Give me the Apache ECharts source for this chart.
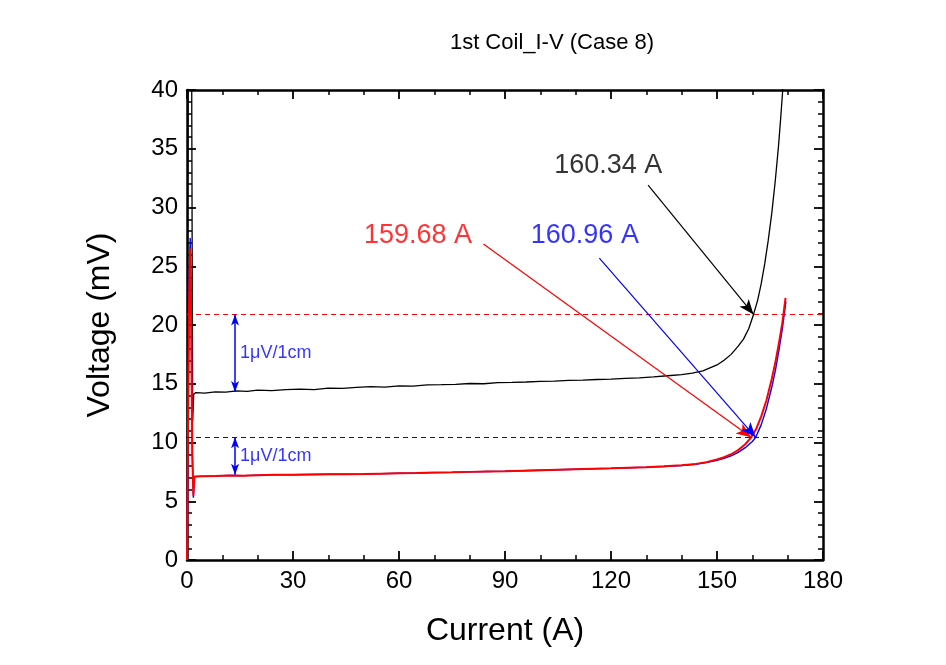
<!DOCTYPE html>
<html>
<head>
<meta charset="utf-8">
<script src="https://cdn.jsdelivr.net/npm/echarts@6/dist/echarts.min.js"></script>
<style>html,body{margin:0;padding:0;background:#fff}#c{width:946px;height:665px}</style>
</head>
<body>
<div id="c"></div>
<script>
var titleText = '1st Coil_I-V (Case 8)';
var xName = 'Current (A)';
var yName = 'Voltage (mV)';
var xTicks = [0, 30, 60, 90, 120, 150, 180];
var yTicks = [0, 5, 10, 15, 20, 25, 30, 35, 40];

var blackIV = [[0.0,0.3],[0.2,30],[0.4,48],[0.9,48],[1.3,44],[1.6,11.8],[1.9,14.1],[2.5,14.25],[5,14.2],[8,14.3],[11,14.28],[14,14.4],[17,14.35],[20,14.45],[24,14.42],[28,14.5],[32,14.55],[36,14.5],[40,14.62],[44,14.6],[48,14.7],[52,14.75],[56,14.72],[60,14.82],[64,14.8],[68,14.9],[72,14.92],[76,14.95],[80,15.02],[84,15.0],[88,15.1],[92,15.12],[96,15.15],[100,15.2],[104,15.22],[108,15.28],[112,15.3],[116,15.36],[120,15.4],[124,15.45],[128,15.5],[132,15.58],[136,15.68],[140,15.78],[143,15.9],[146,16.1],[148,16.35],[150,16.6],[152,17.0],[154,17.5],[156,18.2],[157.5,18.8],[159,19.7],[160.34,20.9],[161.5,22.1],[162.5,23.5],[163.5,25.2],[164.5,27.2],[165.5,29.5],[166.5,32.3],[167.4,35.2],[168,37.5],[168.6,40],[169,41.5]];

var redIV = [[0,0],[0.3,12],[0.6,22],[0.9,26.5],[1.2,20],[1.5,9],[1.8,5.5],[2.1,7.1],[4,7.12],[8,7.15],[12,7.2],[16,7.18],[20,7.22],[25,7.25],[30,7.26],[35,7.28],[40,7.3],[45,7.3],[50,7.32],[55,7.35],[60,7.38],[65,7.4],[70,7.44],[75,7.46],[80,7.5],[85,7.53],[90,7.56],[95,7.6],[100,7.64],[105,7.68],[110,7.72],[115,7.76],[120,7.8],[125,7.85],[130,7.9],[135,7.97],[140,8.06],[144,8.18],[147,8.33],[150,8.55],[152,8.75],[154,9.0],[156,9.35],[158,9.85],[159.68,10.44],[161,11.1],[162.5,12.2],[164,13.6],[165.5,15.4],[166.5,16.8],[167.5,18.4],[168.5,20.2],[169.4,22.3]];

var blueIV = [[0,0],[0.3,13],[0.6,23],[0.9,27.4],[1.2,21],[1.5,9],[1.8,5.3],[2.1,7.1],[4,7.12],[8,7.15],[12,7.2],[16,7.18],[20,7.22],[25,7.25],[30,7.26],[35,7.28],[40,7.3],[45,7.3],[50,7.32],[55,7.35],[60,7.38],[65,7.4],[70,7.44],[75,7.46],[80,7.5],[85,7.53],[90,7.56],[95,7.6],[100,7.64],[105,7.68],[110,7.72],[115,7.76],[120,7.8],[125,7.85],[130,7.9],[135,7.96],[140,8.04],[144,8.15],[147,8.29],[150,8.48],[152,8.65],[154,8.87],[156,9.16],[158,9.56],[160,10.08],[160.96,10.44],[162.5,11.5],[164,12.9],[165.5,14.7],[166.5,16.1],[167.5,17.8],[168.5,19.7],[169.5,22.0]];

var upperCriterion = 20.9;
var lowerCriterion = 10.44;
var scaleBarX = 13.6;
var scaleBarBlack = 14.3;
var scaleBarRed = 7.25;
var scaleText = '1\u03bcV/1cm';

var annotText = ['160.34 A', '159.68 A', '160.96 A'];
var annotAt = [[119.2, 33.6], [65.4, 27.6], [112.6, 27.6]];
var arrowFrom = [[130.5, 31.9], [83.9, 26.9], [116.7, 25.7]];
var arrowTo = [[160.34, 20.9], [159.68, 10.44], [160.96, 10.44]];
var annotColor = ['#000000', '#ff0000', '#0000ff'];

var FONT = 'Liberation Sans, Arial, sans-serif';
var chart = echarts.init(document.getElementById('c'));

function frameAxis(pos, isX, showLabel) {
  return {
    type: 'value', position: pos,
    min: isX ? xTicks[0] : yTicks[0],
    max: isX ? xTicks[xTicks.length-1] : yTicks[yTicks.length-1],
    interval: isX ? xTicks[1]-xTicks[0] : yTicks[1]-yTicks[0],
    axisLine: {show: true, onZero: false, lineStyle: {color: '#000', width: 2.5}},
    axisTick: {show: true, inside: true, length: 9, lineStyle: {color: '#000', width: 1.8}},
    minorTick: {show: true, splitNumber: isX ? 3 : 5, length: 5, lineStyle: {color: '#000', width: 1.5}},
    splitLine: {show: false},
    axisLabel: {show: showLabel, color: '#000', fontSize: 24, fontFamily: FONT, margin: 9}
  };
}

var xb = frameAxis('bottom', true, true);
xb.name = xName; xb.nameLocation = 'middle'; xb.nameGap = 55;
xb.nameTextStyle = {fontSize: 32, color: '#000', fontFamily: FONT};
var xt = frameAxis('top', true, false);
var yl = frameAxis('left', false, true);
yl.name = yName; yl.nameLocation = 'middle'; yl.nameGap = 71;
yl.nameTextStyle = {fontSize: 32, color: '#000', fontFamily: FONT};
var yr = frameAxis('right', false, false);

function dashedSeries(name, level, color) {
  return {type: 'line', name: name, data: [], z: 2,
    markLine: {silent: true, symbol: ['none', 'none'], label: {show: false}, animation: false,
      lineStyle: {color: color, type: [5, 4], width: 1},
      data: [[{coord: [xTicks[0], level]}, {coord: [xTicks[xTicks.length-1], level]}]]}};
}

var series = [
  dashedSeries('upper', upperCriterion, '#ff0000'),
  dashedSeries('lower', lowerCriterion, '#0000ff'),
  {type: 'line', name: 'black', data: blackIV, showSymbol: false, symbol: 'none', clip: true,
   lineStyle: {color: '#000', width: 1.3}, z: 3},
  {type: 'line', name: 'blue', data: blueIV, showSymbol: false, symbol: 'none', clip: true,
   lineStyle: {color: '#0000ff', width: 1.4}, z: 3},
  {type: 'line', name: 'red', data: redIV, showSymbol: false, symbol: 'none', clip: true,
   lineStyle: {color: '#ff0000', width: 2}, z: 4}
];

for (var i = 0; i < annotText.length; i++) {
  series.push({type: 'line', name: 'arrow' + i, data: [], z: 5,
    markLine: {silent: true, symbol: ['none', 'arrow'], symbolSize: [9, 15], label: {show: false}, animation: false,
      lineStyle: {color: annotColor[i], width: 1.2, type: 'solid'},
      itemStyle: {color: annotColor[i]},
      data: [[{coord: arrowFrom[i]}, {coord: arrowTo[i]}]]}});
  series.push({type: 'scatter', name: 'annot' + i, symbolSize: 0, z: 6,
    data: [{value: annotAt[i], name: annotText[i]}],
    label: {show: true, position: 'inside', formatter: '{b}', fontSize: 27, fontFamily: FONT,
      color: annotColor[i], textBorderWidth: 0}});
}

series.push({type: 'line', name: 'scalebars', data: [], z: 5,
  markLine: {silent: true, symbol: ['arrow', 'arrow'], symbolSize: [6, 11], label: {show: false}, animation: false,
    lineStyle: {color: '#0000ff', width: 1.5, type: 'solid'},
    itemStyle: {color: '#0000ff'},
    data: [
      [{coord: [scaleBarX, upperCriterion]}, {coord: [scaleBarX, scaleBarBlack]}],
      [{coord: [scaleBarX, lowerCriterion]}, {coord: [scaleBarX, scaleBarRed]}]
    ]}});
series.push({type: 'scatter', name: 'scaleText', symbolSize: 0, z: 6,
  data: [[scaleBarX, (upperCriterion + scaleBarBlack) / 2], [scaleBarX, (lowerCriterion + scaleBarRed) / 2]],
  label: {show: true, position: 'right', distance: 5, formatter: scaleText, color: '#0000ff',
    fontSize: 18, fontFamily: FONT, textBorderWidth: 0}});

chart.setOption({
  animation: false,
  backgroundColor: '#fff',
  title: {text: titleText, left: 547, top: 27, textAlign: 'center',
    textStyle: {fontSize: 22, fontWeight: 'normal', color: '#000', fontFamily: FONT}},
  grid: {left: 187, right: 123, top: 90, bottom: 105},
  xAxis: [xb, xt],
  yAxis: [yl, yr],
  series: series
});
</script>
</body>
</html>
